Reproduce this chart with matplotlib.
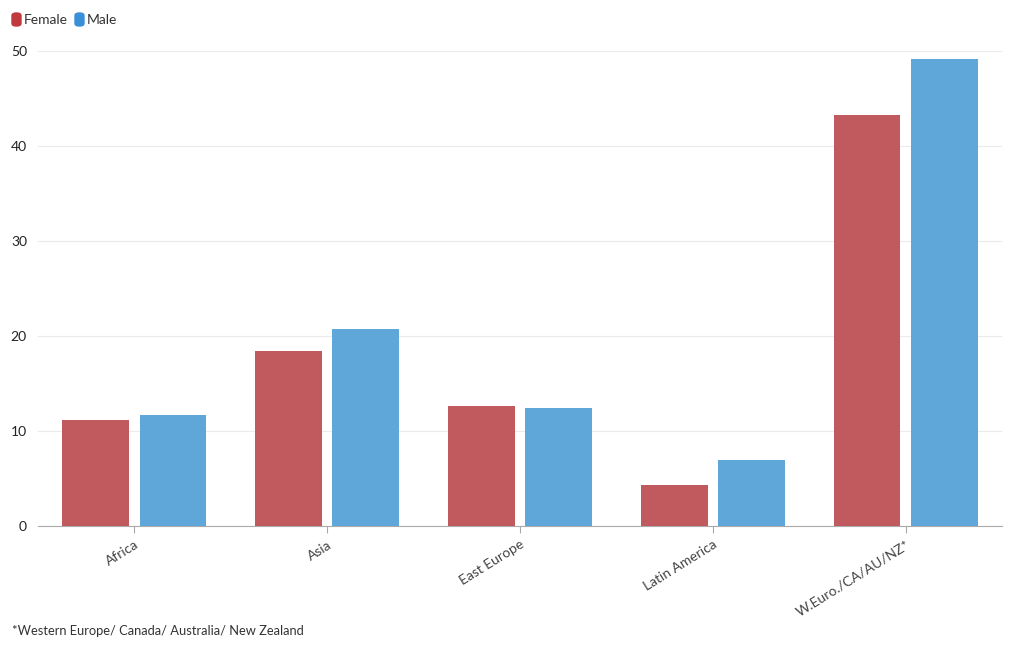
import matplotlib
matplotlib.use("Agg")
import matplotlib.pyplot as plt
import numpy as np
from matplotlib.patches import FancyBboxPatch

categories = ["Africa", "Asia", "East Europe", "Latin America", "W.Euro./CA/AU/NZ*"]
female = [11.2, 18.4, 12.6, 4.3, 43.3]
male = [11.7, 20.7, 12.4, 7.0, 49.2]
yticks = [0, 10, 20, 30, 40, 50]

plt.rcParams['font.family'] = ['Lato', 'DejaVu Sans']

fig = plt.figure(figsize=(10.2, 6.5), dpi=100)
ax = fig.add_axes([38/1020, 1-526/650, (1002-38)/1020, (526-51)/650])

x = np.arange(len(categories))
w = 0.347
ax.bar(x - 0.2, female, width=w, color="#c05a5e", zorder=3)
ax.bar(x + 0.2, male, width=w, color="#5fa6d9", zorder=3)

ax.set_xlim(-0.5, len(categories) - 0.5)
ax.set_ylim(0, 50)
ax.set_yticks(yticks)
ax.set_yticklabels([str(t) for t in yticks], fontsize=10, color="#222")
ax.yaxis.grid(True, color="#ebebeb", linewidth=0.8, zorder=0)
ax.tick_params(axis='y', length=0, pad=8)
ax.set_xticks(x)
ax.set_xticklabels(categories, rotation=32, ha='right', rotation_mode='anchor', fontsize=10, color="#444")
ax.tick_params(axis='x', length=5, color="#aaa", pad=4)
for s in ['top', 'right', 'left']:
    ax.spines[s].set_visible(False)
ax.spines['bottom'].set_color("#aaa")

# legend
def marker(xp, color):
    p = FancyBboxPatch((xp/1020, 1-26/650), 9/1020, 13/650,
                       boxstyle="round,pad=0,rounding_size=0.004",
                       transform=fig.transFigure, color=color)
    fig.patches.append(p)
marker(12, "#c0393f")
fig.text(24/1020, 1-20/650, "Female", fontsize=10, color="#333", va='center')
marker(75, "#3a8fd6")
fig.text(87/1020, 1-20/650, "Male", fontsize=10, color="#333", va='center')

fig.text(12/1020, 1-631/650, "*Western Europe/ Canada/ Australia/ New Zealand", fontsize=9.3, color="#333", va='center')

fig.savefig("out.png", dpi=100)
